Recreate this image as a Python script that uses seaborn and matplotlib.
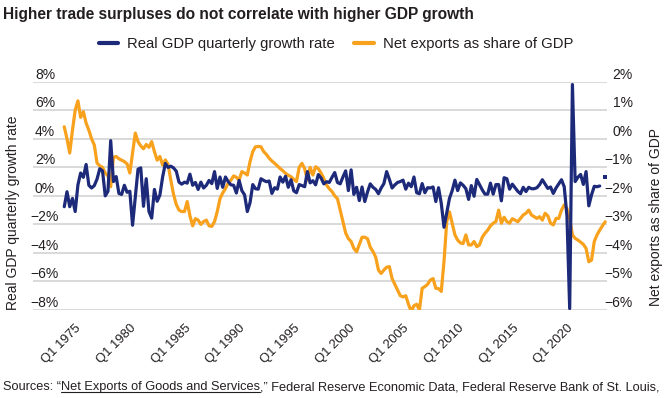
import numpy as np
import pandas as pd
import matplotlib
matplotlib.use("Agg")
import matplotlib.pyplot as plt
import seaborn as sns
from matplotlib import font_manager
from matplotlib.lines import Line2D

# ---------------- data ----------------
nan = np.nan
years = list(range(1974, 2024))
quarters = [f"Q{q} {y}" for y in years for q in (1, 2, 3, 4)][:199]

gdp_growth = [
    -0.76, 0.29, -0.76, -0.18,   # 1974
    -1.10, 0.77, 1.60, 1.30,     # 1975
    2.20, 0.74, 0.55, 0.72,      # 1976
    1.18, 1.90, 1.75, 0.00,      # 1977
    0.32, 3.87, 1.00, 1.35,      # 1978
    0.17, 0.10, 0.74, 0.25,      # 1979
    0.32, -2.06, -0.12, 1.87,    # 1980
    1.96, -0.73, 1.20, -1.09,    # 1981
    -1.56, 0.45, -0.38, 0.05,    # 1982
    1.32, 2.27, 1.99, 2.08,      # 1983
    1.96, 1.73, 0.96, 0.82,      # 1984
    0.96, 0.89, 1.52, 0.74,      # 1985
    0.94, 0.45, 0.96, 0.55,      # 1986
    0.74, 1.08, 0.86, 1.70,      # 1987
    0.52, 1.32, 0.60, 1.32,      # 1988
    1.00, 0.77, 0.74, 0.20,      # 1989
    1.08, 0.37, 0.07, -1.10,     # 1990
    -0.48, 0.79, 0.50, 0.47,     # 1991
    1.20, 1.08, 0.99, 1.04,      # 1992
    0.17, 0.57, 0.47, 1.32,      # 1993
    0.96, 1.37, 0.60, 1.13,      # 1994
    0.35, 0.22, 0.79, 0.72,      # 1995
    0.64, 1.70, 0.91, 1.06,      # 1996
    0.77, 1.49, 1.25, 0.84,      # 1997
    0.99, 0.94, 1.30, 1.63,      # 1998
    0.94, 0.84, 1.32, 1.75,      # 1999
    0.37, 1.82, 0.10, 0.60,      # 2000
    -0.33, 0.62, -0.40, 0.27,    # 2001
    0.84, 0.60, 0.45, 0.15,      # 2002
    0.55, 0.86, 1.70, 1.16,      # 2003
    0.55, 0.77, 0.94, 1.00,      # 2004
    1.10, 0.47, 0.89, 0.64,      # 2005
    1.32, 0.22, 0.15, 0.86,      # 2006
    0.22, 0.57, 0.55, 0.62,      # 2007
    -0.40, 0.57, -0.53, -2.20,   # 2008
    -1.17, -0.18, 0.37, 1.10,    # 2009
    0.37, 0.91, 0.74, 0.50,      # 2010
    -0.25, 0.72, -0.03, 1.15,    # 2011
    0.79, 0.42, 0.12, 0.12,      # 2012
    0.89, 0.12, 0.79, 0.79,      # 2013
    -0.35, 1.27, 1.20, 0.47,     # 2014
    0.82, 0.57, 0.32, 0.15,      # 2015
    0.60, 0.30, 0.60, 0.50,      # 2016
    0.50, 0.57, 0.79, 1.13,      # 2017
    0.82, 0.52, 0.62, 0.17,      # 2018
    0.55, 0.84, 1.13, 0.64,      # 2019
    -1.40, -7.90, 7.80, 1.00,    # 2020
    1.30, 1.50, 0.80, 1.70,      # 2021
    -0.70, 0.07, 0.67, 0.64,     # 2022
    0.69, nan, 1.35,             # 2023
]

net_exports = [
    0.42, 0.00, -0.50, 0.30,     # 1974
    1.00, 1.33, 0.75, 0.95,      # 1975
    0.55, 0.30, 0.00, -0.22,     # 1976
    -0.85, -0.95, -1.00, -1.20,  # 1977
    -1.30, -1.68, -0.65, -0.62,  # 1978
    -0.70, -0.75, -0.80, -0.88,  # 1979
    -1.20, -0.50, 0.20, -0.10,   # 1980
    -0.25, -0.35, -0.20, -0.30,  # 1981
    -0.10, -0.45, -0.75, -0.62,  # 1982
    -0.92, -0.74, -0.90, -1.45,  # 1983
    -1.95, -2.30, -2.50, -2.55,  # 1984
    -2.55, -2.20, -2.70, -3.05,  # 1985
    -2.80, -2.85, -3.00, -2.90,  # 1986
    -2.85, -3.05, -3.07, -2.90,  # 1987
    -2.55, -2.10, -1.90, -1.75,  # 1988
    -1.55, -1.45, -1.30, -1.35,  # 1989
    -1.45, -1.15, -1.20, -1.27,  # 1990
    -0.80, -0.45, -0.28, -0.27,  # 1991
    -0.28, -0.45, -0.55, -0.68,  # 1992
    -0.78, -0.86, -0.95, -1.04,  # 1993
    -1.12, -1.21, -1.28, -1.33,  # 1994
    -1.42, -1.50, -1.00, -0.86,  # 1995
    -1.05, -1.45, -1.00, -1.27,  # 1996
    -0.98, -1.05, -1.20, -1.39,  # 1997
    -1.62, -1.75, -1.85, -2.00,  # 1998
    -2.10, -2.50, -2.90, -3.30,  # 1999
    -3.50, -3.60, -3.84, -3.96,  # 2000
    -3.70, -3.45, -3.45, -3.50,  # 2001
    -3.80, -3.95, -4.15, -4.60,  # 2002
    -4.72, -4.60, -4.50, -4.48,  # 2003
    -4.90, -5.10, -5.30, -5.50,  # 2004
    -5.54, -5.50, -5.80, -6.05,  # 2005
    -5.85, -5.80, -6.00, -5.24,  # 2006
    -5.18, -5.10, -4.95, -4.90,  # 2007
    -5.24, -5.25, -5.35, -4.30,  # 2008
    -2.90, -2.56, -2.96, -3.37,  # 2009
    -3.55, -3.65, -3.67, -3.37,  # 2010
    -3.72, -3.72, -3.60, -3.78,  # 2011
    -3.72, -3.45, -3.31, -3.20,  # 2012
    -3.05, -2.96, -2.90, -2.50,  # 2013
    -2.96, -2.75, -2.90, -2.96,  # 2014
    -2.80, -2.85, -2.91, -2.79,  # 2015
    -2.67, -2.61, -2.50, -2.67,  # 2016
    -2.73, -2.79, -2.73, -2.85,  # 2017
    -2.61, -2.70, -2.96, -3.02,  # 2018
    -2.79, -2.79, -2.50, -2.32,  # 2019
    -2.44, -2.79, -3.37, -3.49,  # 2020
    -3.55, -3.62, -3.70, -3.84,  # 2021
    -4.31, -4.25, -3.60, -3.37,  # 2022
    -3.20, -3.05, -2.91,         # 2023
]

left_ticks = [-8, -6, -4, -2, 0, 2, 4, 6, 8]
left_labels = ["\u22128%", "\u22126%", "\u22124%", "\u22122%", "0%", "2%", "4%", "6%", "8%"]
right_ticks = [-6, -5, -4, -3, -2, -1, 0, 1, 2]
right_labels = ["\u22126%", "\u22125%", "\u22124%", "\u22123%", "\u22122%", "\u22121%", "0%", "1%", "2%"]
xtick_labels = ["Q1 1975", "Q1 1980", "Q1 1985", "Q1 1990", "Q1 1995",
                "Q1 2000", "Q1 2005", "Q1 2010", "Q1 2015", "Q1 2020"]

title = "Higher trade surpluses do not correlate with higher GDP growth"
series_gdp = "Real GDP quarterly growth rate"
series_nx = "Net exports as share of GDP"
source_parts = ["Sources: \u201c", "Net Exports of Goods and Services",
                ",\u201d Federal Reserve Economic Data, Federal Reserve Bank of St. Louis,"]

df = pd.DataFrame({"quarter": quarters, "gdp": gdp_growth, "nx": net_exports})
df["idx"] = np.arange(len(df))

# ---------------- style ----------------
BLUE = "#1d2a7a"
ORANGE = "#f8a11c"
GRID = "#d9d9d9"
TXT = "#231f20"

sns.set_theme(style="white")


def has_font(name):
    try:
        font_manager.findfont(font_manager.FontProperties(family=name), fallback_to_default=False)
        return True
    except Exception:
        return False


plt.rcParams["font.family"] = ["Liberation Sans", "DejaVu Sans"]
title_family = ["Liberation Sans Narrow", "Liberation Sans", "DejaVu Sans"] if has_font("Liberation Sans Narrow") \
    else ["Liberation Sans", "DejaVu Sans"]

W, H = 669, 398
fig = plt.figure(figsize=(W / 100, H / 100), dpi=100)
fig.patch.set_facecolor("white")


def fx(px):
    return px / W


def fy(py):
    return 1 - py / H


AX_L, AX_R, AX_T, AX_B = 33, 607, 81.7, 310
axL = fig.add_axes([fx(AX_L), fy(AX_B), fx(AX_R) - fx(AX_L), fy(AX_T) - fy(AX_B)])
axR = axL.twinx()
axL.set_zorder(axR.get_zorder() + 1)
axL.patch.set_visible(False)

# orange on the right axis (drawn below)
sns.lineplot(data=df, x="idx", y="nx", ax=axR, color=ORANGE, linewidth=2.3, legend=False)

# blue on the left axis (drawn above), split into contiguous runs
valid = df["gdp"].notna().to_numpy()
run_id = np.cumsum(np.r_[True, valid[1:] != valid[:-1]])
first_line = None
for rid in np.unique(run_id[valid]):
    seg = df[(run_id == rid) & valid]
    if len(seg) > 1:
        sns.lineplot(data=seg, x="idx", y="gdp", ax=axL, color=BLUE, linewidth=2.3, legend=False)
    else:
        sns.scatterplot(data=seg, x="idx", y="gdp", ax=axL, color=BLUE, s=9, marker="s",
                        linewidth=0, legend=False)

step = 2.732
x0 = 64.26
axL.set_xlim((AX_L - x0) / step, (AX_R - x0) / step)
axL.set_ylim(-8, 8)
axR.set_ylim(-6, 2)

# grid on the lower axis
axR.set_yticks(right_ticks)
axR.grid(axis="y", color=GRID, linewidth=1.4)
axR.set_axisbelow(True)

for a in (axL, axR):
    for s in a.spines.values():
        s.set_visible(False)
    a.set_xlabel("")
    a.set_ylabel("")

axL.set_yticks(left_ticks)
axL.set_yticklabels(left_labels)
axL.tick_params(axis="y", length=0, pad=-8.6, labelsize=10, labelcolor=TXT)
for t in axL.get_yticklabels():
    t.set_horizontalalignment("center")
    t.set_verticalalignment("bottom")

axR.set_yticklabels(right_labels)
axR.tick_params(axis="y", length=0, pad=18.7, labelsize=10, labelcolor=TXT)
for t in axR.get_yticklabels():
    t.set_horizontalalignment("right")
    t.set_verticalalignment("bottom")

tick_pos = [quarters.index(lbl) for lbl in xtick_labels]
axL.set_xticks(tick_pos)
axL.set_xticklabels(xtick_labels, rotation=45, ha="right", rotation_mode="anchor")
axL.tick_params(axis="x", length=0, pad=9, labelsize=9.4, labelcolor=TXT)

# axis titles
fig.text(fx(13), fy(212.5), series_gdp, rotation=90, ha="center", va="center",
         fontsize=10, color=TXT)
fig.text(fx(656), fy(217.5), series_nx, rotation=90, ha="center", va="center",
         fontsize=10, color=TXT)

# legend
handles = [axL.get_lines()[0], axR.get_lines()[0]]
leg = fig.legend(handles, [series_gdp, series_nx], loc="center",
                 bbox_to_anchor=(fx(336), fy(44)), ncol=2, frameon=False,
                 fontsize=10.7, handlelength=1.3, handletextpad=0.6, columnspacing=1.3,
                 labelcolor=TXT)
for h in leg.legend_handles:
    h.set_linewidth(3)

# title
ttl = fig.text(fx(3), fy(18.5), title, ha="left", va="baseline", fontweight="bold",
               fontsize=11, color=TXT, family=title_family)

fig.canvas.draw()
r = fig.canvas.get_renderer()
w = ttl.get_window_extent(r).width
ttl.set_fontsize(11 * 473 / w)

# source line with underlined link part
full = fig.text(0, 0, "".join(source_parts), fontsize=9)
fig.canvas.draw()
wfull = full.get_window_extent(r).width
src_fs = 9 * 662 / wfull
full.remove()
xcur = 3.0
base_y = 390
for i, part in enumerate(source_parts):
    t = fig.text(fx(xcur), fy(base_y), part, ha="left", va="baseline", fontsize=src_fs, color=TXT)
    fig.canvas.draw()
    pw = t.get_window_extent(r).width
    if i == 1:
        fig.add_artist(Line2D([fx(xcur), fx(xcur + pw)], [fy(base_y + 1.8), fy(base_y + 1.8)],
                              transform=fig.transFigure, color=TXT, linewidth=0.8))
    xcur += pw

fig.savefig("out.png", dpi=100, facecolor="white")
